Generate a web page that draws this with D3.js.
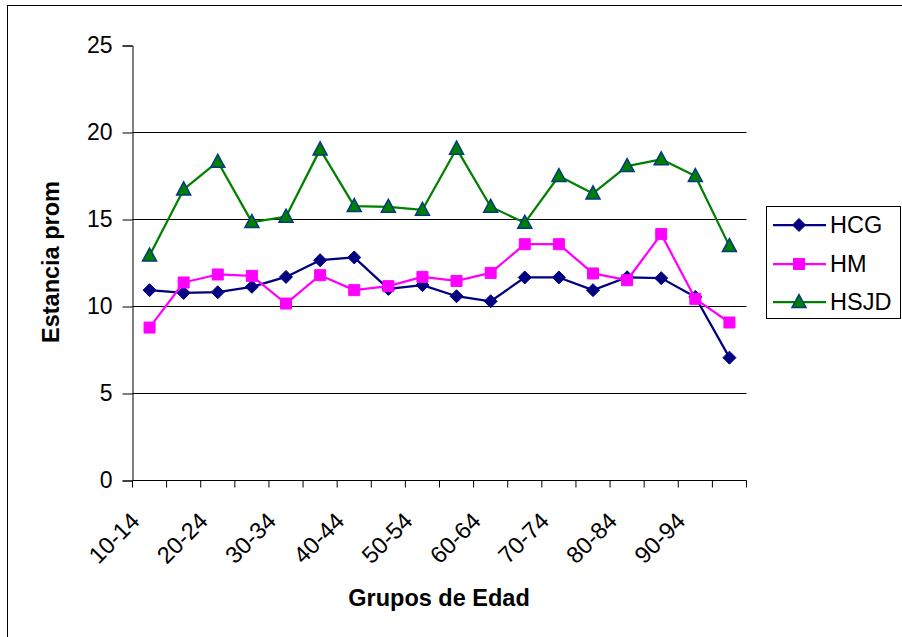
<!DOCTYPE html>
<html>
<head>
<meta charset="utf-8">
<script src="https://cdn.jsdelivr.net/npm/d3@7/dist/d3.min.js"></script>
<style>
  html, body { margin: 0; padding: 0; background: #fff; }
  svg { display: block; }
  text { font-family: "Liberation Sans", Arial, sans-serif; fill: #000; }
</style>
</head>
<body>
<svg id="chart" width="902" height="637"></svg>
<script>
// Age groups (x categories)
const categories = ["10-14", "15-19", "20-24", "25-29", "30-34", "35-39", "40-44", "45-49", "50-54",
                    "55-59", "60-64", "65-69", "70-74", "75-79", "80-84", "85-89", "90-94", "95-99"];

// Average stay per hospital
const hcg  = [10.94, 10.78, 10.82, 11.13, 11.70, 12.66, 12.82, 11.01, 11.23,
              10.59, 10.30, 11.67, 11.67, 10.94, 11.68, 11.63, 10.55, 7.06];
const hm   = [8.79, 11.38, 11.84, 11.76, 10.17, 11.80, 10.94, 11.17, 11.70,
              11.47, 11.93, 13.58, 13.58, 11.90, 11.51, 14.16, 10.44, 9.08];
const hsjd = [12.93, 16.73, 18.32, 14.85, 15.16, 19.03, 15.77, 15.73, 15.56,
              19.07, 15.73, 14.81, 17.50, 16.50, 18.07, 18.46, 17.50, 13.47];

const seriesNames = ["HCG", "HM", "HSJD"];
const yTicks = [0, 5, 10, 15, 20, 25];
const yTitle = "Estancia prom";
const xTitle = "Grupos de Edad";

const svg = d3.select("#chart");

// Outer chart frame (right and bottom edges sit off the canvas)
svg.append("rect")
  .attr("x", 7.5).attr("y", 5.5)
  .attr("width", 1000).attr("height", 1000)
  .attr("fill", "none").attr("stroke", "#000").attr("stroke-width", 1);

const x = d3.scaleBand().domain(categories).range([132.5, 746.5]);
const y = d3.scaleLinear().domain([0, 25]).range([480.5, 45.5]);

// Horizontal gridlines
svg.append("g").selectAll("line")
  .data(yTicks.filter(t => t > 0 && t < 25))
  .join("line")
  .attr("x1", x.range()[0]).attr("x2", x.range()[1])
  .attr("y1", d => y(d)).attr("y2", d => y(d))
  .attr("stroke", "#000").attr("stroke-width", 1);

// Y axis
const yAxis = svg.append("g")
  .attr("transform", `translate(${x.range()[0]},0)`)
  .call(d3.axisLeft(y).tickValues(yTicks).tickSize(10).tickPadding(10).tickFormat(d3.format("d")));
yAxis.select(".domain").attr("stroke", "#000");
yAxis.selectAll(".tick line").attr("stroke", "#000");
yAxis.selectAll(".tick text")
  .attr("font-size", 23).attr("font-family", "Liberation Sans, Arial, sans-serif").attr("fill", "#000");

// X axis: tick marks at category boundaries
const xAxisG = svg.append("g").attr("transform", `translate(0,${y(0)})`);
xAxisG.append("line")
  .attr("x1", x.range()[0]).attr("x2", x.range()[1])
  .attr("stroke", "#000");
const boundaries = d3.range(categories.length + 1).map(i => x.range()[0] + i * x.step());
xAxisG.selectAll("line.tk")
  .data(boundaries)
  .join("line").attr("class", "tk")
  .attr("x1", d => d).attr("x2", d => d)
  .attr("y1", 0).attr("y2", 7)
  .attr("stroke", "#000");

// Rotated category labels (every other group)
svg.append("g").selectAll("text")
  .data(categories.filter((c, i) => i % 2 === 0))
  .join("text")
  .attr("transform", d => `translate(${x(d) + x.bandwidth() / 2 - 8.5},${y(0) + 42}) rotate(-45)`)
  .attr("text-anchor", "end")
  .attr("font-size", 23.5)
  .text(d => d);

// Axis titles
svg.append("text")
  .attr("transform", "translate(59,262) rotate(-90)")
  .attr("text-anchor", "middle")
  .attr("font-size", 23.5).attr("font-weight", "bold")
  .text(yTitle);

svg.append("text")
  .attr("x", 439).attr("y", 606)
  .attr("text-anchor", "middle")
  .attr("font-size", 23.5).attr("font-weight", "bold")
  .text(xTitle);

// Marker shapes
const markerPath = {
  diamond: "M0,-6.5L6.5,0L0,6.5L-6.5,0Z",
  square: "M-5.5,-5.5H5.5V5.5H-5.5Z",
  triangle: "M0,-7.5L7,5.5H-7Z"
};

const series = [
  { name: seriesNames[0], values: hcg,  line: "#000080", fill: "#000080", stroke: "#000080", marker: "diamond" },
  { name: seriesNames[1], values: hm,   line: "#FF00FF", fill: "#FF00FF", stroke: "#FF00FF", marker: "square" },
  { name: seriesNames[2], values: hsjd, line: "#008000", fill: "#008000", stroke: "#003a80", marker: "triangle" }
];

const cx = (d, i) => x(categories[i]) + x.bandwidth() / 2;
const lineGen = d3.line().x((d, i) => cx(d, i)).y(d => y(d));

series.forEach(s => {
  const g = svg.append("g");
  g.append("path")
    .attr("d", lineGen(s.values))
    .attr("fill", "none").attr("stroke", s.line).attr("stroke-width", 2.25)
    .attr("stroke-linejoin", "round");
  g.selectAll("path.m")
    .data(s.values)
    .join("path").attr("class", "m")
    .attr("d", markerPath[s.marker])
    .attr("transform", (d, i) => `translate(${cx(d, i)},${y(d)})`)
    .attr("fill", s.fill)
    .attr("stroke", s.stroke)
    .attr("stroke-width", s.marker === "triangle" ? 1.5 : 1);
});

// Legend
const legend = svg.append("g");
legend.append("rect")
  .attr("x", 766.5).attr("y", 206.5).attr("width", 134).attr("height", 112)
  .attr("fill", "#fff").attr("stroke", "#000").attr("stroke-width", 1);
const rowY = [225, 264, 302];
series.forEach((s, i) => {
  const ry = rowY[i];
  legend.append("line")
    .attr("x1", 773).attr("x2", 826).attr("y1", ry).attr("y2", ry)
    .attr("stroke", s.line).attr("stroke-width", 2.25);
  legend.append("path")
    .attr("d", markerPath[s.marker])
    .attr("transform", `translate(799,${ry})`)
    .attr("fill", s.fill).attr("stroke", s.stroke)
    .attr("stroke-width", s.marker === "triangle" ? 1.5 : 1);
  legend.append("text")
    .attr("x", 830).attr("y", ry).attr("dy", "0.36em")
    .attr("font-size", 23.5)
    .text(s.name);
});
</script>
</body>
</html>
